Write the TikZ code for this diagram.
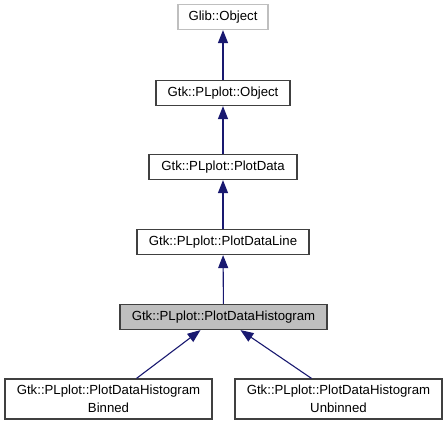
\documentclass[tikz,border=0pt]{standalone}
\usepackage{fontspec}
\setmainfont{Liberation Sans}
\usetikzlibrary{positioning,arrows.meta}
\definecolor{doxEdge}{HTML}{191970}
\definecolor{doxBorde}{HTML}{404040}
\definecolor{doxGris}{HTML}{BFBFBF}
\tikzset{
  clase/.style={rectangle, draw=doxBorde, line width=1.2pt, fill=white,
    minimum height=25pt, inner sep=2pt, align=center,
    font=\fontsize{13.2}{17.5}\selectfont},
  externa/.style={clase, draw=doxGris},
  actual/.style={clase, fill=doxGris},
  hereda/.style={-{Triangle[length=13pt,width=10pt]}, line width=1.1pt, doxEdge},
}
\begin{document}
\begin{tikzpicture}[x=1pt, y=-1pt]
    \useasboundingbox (0,0) rectangle (448,425);
    \node[externa, minimum width=90pt]  (glib) at (223,17)    {Glib::Object};
    \node[clase, minimum width=134pt]   (obj)  at (223,93)    {Gtk::PLplot::Object};
    \node[clase, minimum width=148pt]   (pd)   at (223,167)   {Gtk::PLplot::PlotData};
    \node[clase, minimum width=172pt]   (pdl)  at (223,242)   {Gtk::PLplot::PlotDataLine};
    \node[actual, minimum width=207pt]  (pdh)  at (223.5,317) {Gtk::PLplot::PlotDataHistogram};
    \node[clase, minimum width=207pt, minimum height=40pt] (bin) at (108.5,399)
        {Gtk::PLplot::PlotDataHistogram\\Binned};
    \node[clase, minimum width=207pt, minimum height=40pt] (unbin) at (338.5,399)
        {Gtk::PLplot::PlotDataHistogram\\Unbinned};
    \draw[hereda] (obj) -- (glib);
    \draw[hereda] (pd) -- (obj);
    \draw[hereda] (pdl) -- (pd);
    \draw[hereda] (pdh) -- (pdl);
    \draw[hereda] ([xshift=28pt]bin.north) -- ([xshift=-23pt]pdh.south);
    \draw[hereda] ([xshift=-27pt]unbin.north) -- ([xshift=17pt]pdh.south);
  \end{tikzpicture}
\end{document}
